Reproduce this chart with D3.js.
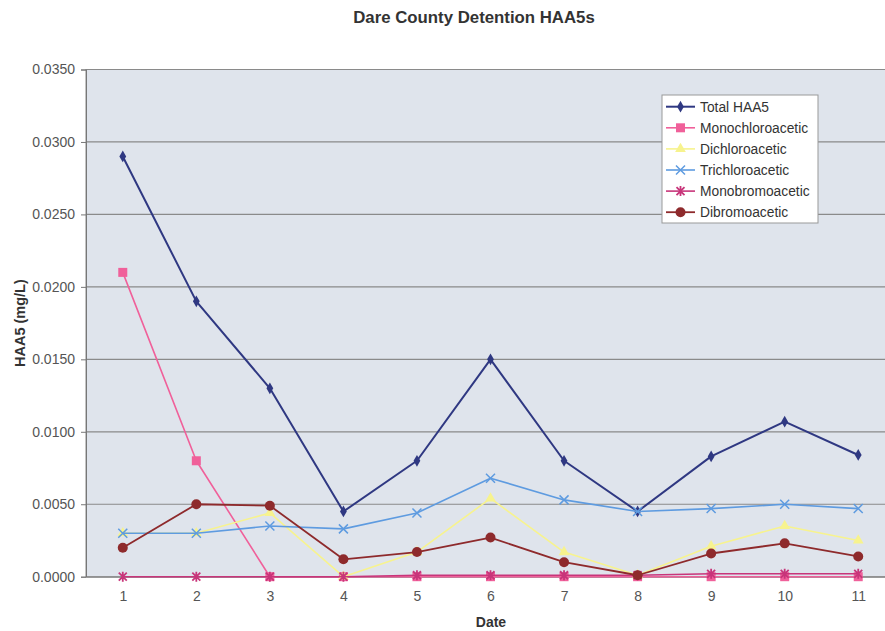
<!DOCTYPE html>
<html><head><meta charset="utf-8">
<script src="https://cdn.jsdelivr.net/npm/d3@7"></script>
<style>body{margin:0;background:#fff;}svg{display:block;font-family:"Liberation Sans",Arial,sans-serif;}</style>
</head><body>
<svg id="c" width="885" height="631"></svg>
<script>
const dates = ["1","2","3","4","5","6","7","8","9","10","11"];
const totalHAA5 = [0.0290,0.0190,0.0130,0.0045,0.0080,0.0150,0.0080,0.0045,0.0083,0.0107,0.0084];
const monochloroacetic = [0.0210,0.0080,0,0,0,0,0,0,0,0,0];
const dichloroacetic = [0.0030,0.0030,0.0044,0.0000,0.0017,0.0054,0.0017,0.0001,0.0021,0.0035,0.0025];
const trichloroacetic = [0.0030,0.0030,0.0035,0.0033,0.0044,0.0068,0.0053,0.0045,0.0047,0.0050,0.0047];
const monobromoacetic = [0,0,0,0,0.0001,0.0001,0.0001,0.0001,0.0002,0.0002,0.0002];
const dibromoacetic = [0.0020,0.0050,0.0049,0.0012,0.0017,0.0027,0.0010,0.0001,0.0016,0.0023,0.0014];
const yTicks = [0,0.005,0.010,0.015,0.020,0.025,0.030,0.035];

const series = [
  {name:"Total HAA5", values: totalHAA5, color:"#2f3882", marker:"diamond", w:2},
  {name:"Monochloroacetic", values: monochloroacetic, color:"#f0609a", marker:"square", w:1.6},
  {name:"Dichloroacetic", values: dichloroacetic, color:"#f7f38e", marker:"triangle", w:1.6},
  {name:"Trichloroacetic", values: trichloroacetic, color:"#5e9be0", marker:"x", w:1.6},
  {name:"Monobromoacetic", values: monobromoacetic, color:"#c8357a", marker:"star", w:1.6},
  {name:"Dibromoacetic", values: dibromoacetic, color:"#8e2a2c", marker:"circle", w:1.8}
];

const svg = d3.select("#c");
const L = 86, R = 895, T = 69.5, B = 576.7;
const x = d3.scalePoint().domain(dates).range([L, R]).padding(0.5);
const y = d3.scaleLinear().domain([0, 0.035]).range([B, T]);

svg.append("rect").attr("x", L).attr("y", T).attr("width", R - L).attr("height", B - T)
  .attr("fill", "#dfe4ec").attr("stroke", "#8a8a8a").attr("stroke-width", 1);

// gridlines
svg.append("g").selectAll("line").data(yTicks.slice(1)).join("line")
  .attr("x1", L).attr("x2", R).attr("y1", d => y(d)).attr("y2", d => y(d))
  .attr("stroke", "#8a8a8a").attr("stroke-width", 1.2);

// y axis
const ya = svg.append("g").attr("transform", `translate(${L},0)`)
  .call(d3.axisLeft(y).tickValues(yTicks).tickFormat(d3.format(".4f")).tickSize(5).tickPadding(6));
ya.select(".domain").attr("stroke", "#777");
ya.selectAll(".tick line").attr("stroke", "#777");
ya.selectAll("text").attr("fill", "#555").attr("font-size", 14).attr("font-family", "Liberation Sans, Arial, sans-serif");

// x axis
const xa = svg.append("g").attr("transform", `translate(0,${B})`)
  .call(d3.axisBottom(x).tickSize(0).tickPadding(14));
xa.select(".domain").attr("stroke", "#777");
xa.selectAll("text").attr("fill", "#555").attr("font-size", 14).attr("font-family", "Liberation Sans, Arial, sans-serif");

// lines
const line = d3.line().x((d, i) => x(dates[i])).y(d => y(d));
function drawMarker(g, type, cx, cy, color) {
  if (type === "diamond") {
    g.append("path").attr("d", d3.symbol(d3.symbolDiamond, 40)()).attr("transform", `translate(${cx},${cy})`).attr("fill", color);
  } else if (type === "square") {
    g.append("rect").attr("x", cx - 4.5).attr("y", cy - 4.5).attr("width", 9).attr("height", 9).attr("fill", color);
  } else if (type === "triangle") {
    g.append("path").attr("d", d3.symbol(d3.symbolTriangle, 50)()).attr("transform", `translate(${cx},${cy})`).attr("fill", color);
  } else if (type === "x") {
    g.append("path").attr("d", `M${cx-4.5},${cy-4.5}L${cx+4.5},${cy+4.5}M${cx-4.5},${cy+4.5}L${cx+4.5},${cy-4.5}`).attr("stroke", color).attr("stroke-width", 1.5);
  } else if (type === "star") {
    g.append("path").attr("d", `M${cx-4},${cy-4}L${cx+4},${cy+4}M${cx-4},${cy+4}L${cx+4},${cy-4}M${cx},${cy-5}L${cx},${cy+5}`).attr("stroke", color).attr("stroke-width", 1.8);
  } else if (type === "circle") {
    g.append("circle").attr("cx", cx).attr("cy", cy).attr("r", 5).attr("fill", color);
  }
}
series.forEach(s => {
  const g = svg.append("g");
  g.append("path").datum(s.values).attr("d", line).attr("fill", "none")
    .attr("stroke", s.color).attr("stroke-width", s.w).attr("stroke-linejoin", "round");
  s.values.forEach((v, i) => drawMarker(g, s.marker, x(dates[i]), y(v), s.color));
});

// legend
const lg = svg.append("g");
lg.append("rect").attr("x", 662).attr("y", 95).attr("width", 156).attr("height", 128)
  .attr("fill", "#fff").attr("stroke", "#999").attr("stroke-width", 1);
series.forEach((s, i) => {
  const cy = 106.7 + i * 21.1;
  lg.append("line").attr("x1", 666).attr("x2", 695).attr("y1", cy).attr("y2", cy)
    .attr("stroke", s.color).attr("stroke-width", s.w);
  drawMarker(lg, s.marker, 680.5, cy, s.color);
  lg.append("text").attr("x", 700).attr("y", cy + 5).attr("font-size", 13.8).attr("fill", "#333").text(s.name);
});

// titles
svg.append("text").attr("x", 474).attr("y", 23).attr("text-anchor", "middle")
  .attr("font-size", 16.8).attr("font-weight", "bold").attr("fill", "#333").text("Dare County Detention HAA5s");
svg.append("text").attr("transform", `translate(25,${(T + B) / 2}) rotate(-90)`).attr("text-anchor", "middle")
  .attr("font-size", 14.5).attr("font-weight", "bold").attr("fill", "#333").text("HAA5 (mg/L)");
svg.append("text").attr("x", 491).attr("y", 627).attr("text-anchor", "middle")
  .attr("font-size", 14).attr("font-weight", "bold").attr("fill", "#333").text("Date");
</script>
</body></html>
